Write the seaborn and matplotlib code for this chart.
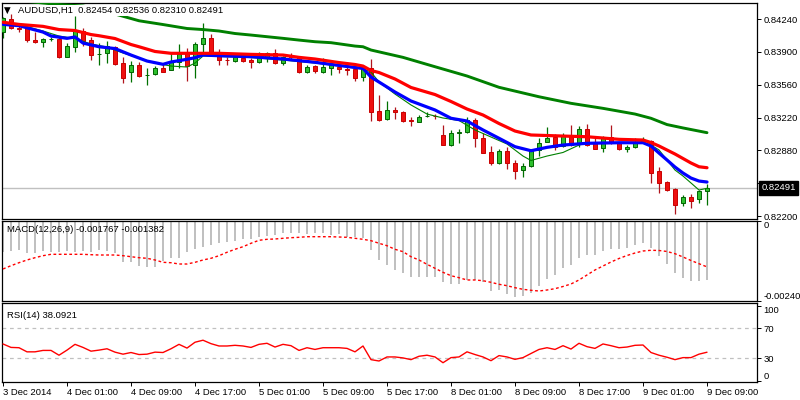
import numpy as np
import pandas as pd
import matplotlib
matplotlib.use("Agg")
import matplotlib.pyplot as plt
import matplotlib.transforms as mtransforms
import seaborn as sns

# ---------------- data ----------------
bar_labels = ["3 Dec 2014", "4 Dec 01:00", "4 Dec 09:00", "4 Dec 17:00", "5 Dec 01:00",
              "5 Dec 09:00", "5 Dec 17:00", "8 Dec 01:00", "8 Dec 09:00", "8 Dec 17:00",
              "9 Dec 01:00", "9 Dec 09:00"]

open_ = [0.84102, 0.84240, 0.84147, 0.84150, 0.84022, 0.83999, 0.84030, 0.84033, 0.83850, 0.83953,
         0.84119, 0.84022, 0.83874, 0.83885, 0.83953, 0.83781, 0.83688, 0.83764, 0.83657, 0.83667,
         0.83729, 0.83709, 0.83792, 0.83895, 0.83764, 0.83978, 0.84040, 0.83895, 0.83817, 0.83808,
         0.83839, 0.83815, 0.83792, 0.83850, 0.83885, 0.83781, 0.83853, 0.83843, 0.83694, 0.83753,
         0.83694, 0.83729, 0.83746, 0.83722, 0.83719, 0.83636, 0.83729, 0.83287, 0.83201, 0.83298,
         0.83280, 0.83190, 0.83176, 0.83232, 0.83237, 0.83039, 0.82935, 0.83059, 0.83073, 0.83194,
         0.83005, 0.82860, 0.82746, 0.82873, 0.82746, 0.82676, 0.82718, 0.82884, 0.82969, 0.83023,
         0.82925, 0.83039, 0.82943, 0.83098, 0.82959, 0.82901, 0.83021, 0.82963, 0.82891, 0.82911,
         0.82969, 0.82980, 0.82666, 0.82555, 0.82480, 0.82332, 0.82400, 0.82373, 0.82454]
high = [0.84264, 0.84289, 0.84195, 0.84171, 0.84102, 0.84046, 0.84057, 0.84057, 0.83995, 0.84271,
        0.84150, 0.84057, 0.83988, 0.84012, 0.83964, 0.83850, 0.83805, 0.83798, 0.83729, 0.83753,
        0.83787, 0.83901, 0.83977, 0.83937, 0.84005, 0.84195, 0.84081, 0.83929, 0.83850, 0.83867,
        0.83867, 0.83839, 0.83901, 0.83901, 0.83929, 0.83860, 0.83885, 0.83850, 0.83764, 0.83764,
        0.83833, 0.83781, 0.83781, 0.83746, 0.83746, 0.83746, 0.83826, 0.83453, 0.83391, 0.83332,
        0.83287, 0.83228, 0.83246, 0.83280, 0.83256, 0.83142, 0.83091, 0.83098, 0.83222, 0.83212,
        0.83056, 0.82925, 0.82891, 0.82918, 0.82780, 0.82746, 0.82891, 0.83005, 0.83125, 0.83049,
        0.83063, 0.83142, 0.83132, 0.83153, 0.83005, 0.83028, 0.83142, 0.82969, 0.82935, 0.83005,
        0.83015, 0.82987, 0.82711, 0.82566, 0.82487, 0.82417, 0.82428, 0.82469, 0.82536]
low = [0.84040, 0.84136, 0.84108, 0.83999, 0.83995, 0.83953, 0.84012, 0.83839, 0.83848, 0.83901,
       0.83964, 0.83815, 0.83764, 0.83781, 0.83764, 0.83574, 0.83591, 0.83642, 0.83557, 0.83660,
       0.83688, 0.83707, 0.83729, 0.83598, 0.83632, 0.83885, 0.83885, 0.83764, 0.83764, 0.83798,
       0.83792, 0.83736, 0.83781, 0.83798, 0.83771, 0.83764, 0.83815, 0.83678, 0.83678, 0.83684,
       0.83678, 0.83660, 0.83678, 0.83660, 0.83598, 0.83598, 0.83184, 0.83187, 0.83194, 0.83201,
       0.83176, 0.83135, 0.83170, 0.83222, 0.83201, 0.82935, 0.82925, 0.82959, 0.83063, 0.82918,
       0.82849, 0.82728, 0.82738, 0.82684, 0.82580, 0.82601, 0.82711, 0.82821, 0.82963, 0.82884,
       0.82918, 0.82925, 0.82911, 0.82925, 0.82891, 0.82866, 0.82946, 0.82884, 0.82866, 0.82901,
       0.82959, 0.82545, 0.82441, 0.82462, 0.82221, 0.82304, 0.82280, 0.82338, 0.82310]
close = [0.84247, 0.84144, 0.84141, 0.84019, 0.83999, 0.84033, 0.84035, 0.83850, 0.83960, 0.84126,
         0.84012, 0.83867, 0.83880, 0.83964, 0.83774, 0.83632, 0.83764, 0.83653, 0.83662, 0.83736,
         0.83694, 0.83798, 0.83881, 0.83753, 0.83978, 0.84040, 0.83901, 0.83815, 0.83812, 0.83850,
         0.83808, 0.83792, 0.83850, 0.83885, 0.83781, 0.83843, 0.83847, 0.83694, 0.83746, 0.83705,
         0.83740, 0.83771, 0.83719, 0.83716, 0.83632, 0.83729, 0.83280, 0.83194, 0.83298, 0.83280,
         0.83187, 0.83184, 0.83228, 0.83237, 0.83232, 0.82935, 0.83056, 0.83065, 0.83194, 0.83005,
         0.82856, 0.82752, 0.82873, 0.82746, 0.82669, 0.82718, 0.82884, 0.82959, 0.83005, 0.82918,
         0.83039, 0.82935, 0.83098, 0.82935, 0.82894, 0.83021, 0.82953, 0.82891, 0.82911, 0.82969,
         0.82987, 0.82648, 0.82545, 0.82469, 0.82314, 0.82394, 0.82358, 0.82459, 0.82491]

# moving averages (bar index, price)
slow_ma_idx = [0, 5, 7, 10, 12, 14, 17, 20, 23, 25, 27, 29, 31, 33, 35, 37, 39, 41, 44, 45, 46,
               50, 54, 58, 62, 67, 71, 75, 79, 81, 83, 85, 88]
slow_ma = [0.84447, 0.84406, 0.84390, 0.84375, 0.84343, 0.84292, 0.84222, 0.84183, 0.84142, 0.84131,
           0.84116, 0.84090, 0.84074, 0.84057, 0.84040, 0.84022, 0.84005, 0.83995, 0.83960, 0.83953,
           0.83919, 0.83843, 0.83746, 0.83650, 0.83533, 0.83435, 0.83367, 0.83315, 0.83256, 0.83212,
           0.83147, 0.83112, 0.83063]
mid_ma_idx = [0, 2, 5, 7, 9, 11, 12, 14, 16, 17, 19, 21, 27, 31, 35, 37, 39, 42, 44, 45,
              46, 47, 49, 51, 54, 56, 58, 60, 62, 64, 66, 70, 73, 77, 80, 81, 82, 84, 86, 87, 88]
mid_ma = [0.84207, 0.84184, 0.84164, 0.84131, 0.84121, 0.84079, 0.84067, 0.84038, 0.83976, 0.83953,
          0.83904, 0.83885, 0.83885, 0.83874, 0.83867, 0.83843, 0.83826, 0.83789, 0.83769, 0.83753,
          0.83707, 0.83686, 0.83619, 0.83531, 0.83458, 0.83386, 0.83308, 0.83246, 0.83158, 0.83080,
          0.83039, 0.83028, 0.83021, 0.82994, 0.82987, 0.82961, 0.82925, 0.82842, 0.82749, 0.82710,
          0.82700]
fast_ma_idx = [0, 2, 5, 6, 8, 9, 10, 12, 14, 16, 18, 20, 21, 23, 24, 25, 27, 31, 35, 39,
               44, 45, 46, 48, 49, 51, 54, 56, 58, 60, 62, 64, 66, 68, 70, 73, 77, 80, 81, 82,
               83, 84, 85, 86, 87, 88]
fast_ma = [0.84185, 0.84171, 0.84105, 0.84064, 0.84040, 0.84054, 0.83991, 0.83953, 0.83934, 0.83867,
           0.83805, 0.83771, 0.83795, 0.83823, 0.83839, 0.83867, 0.83860, 0.83850, 0.83826, 0.83792,
           0.83738, 0.83729, 0.83639, 0.83536, 0.83484, 0.83391, 0.83298, 0.83212, 0.83184, 0.83091,
           0.83005, 0.82918, 0.82876, 0.82911, 0.82935, 0.82953, 0.82959, 0.82959, 0.82925, 0.82852,
           0.82780, 0.82707, 0.82645, 0.82593, 0.82562, 0.82552]
thin_ma_idx = [0, 2, 5, 7, 9, 11, 13, 15, 17, 19, 21, 23, 24, 25, 27, 31, 35, 39, 44, 45,
               46, 47, 48, 49, 51, 53, 55, 57, 59, 61, 63, 65, 66, 68, 70, 72, 73, 77, 80, 81,
               82, 84, 85, 86, 87, 88]
thin_ma = [0.84209, 0.84183, 0.84116, 0.84064, 0.84038, 0.83981, 0.83950, 0.83888, 0.83836, 0.83784,
           0.83753, 0.83743, 0.83784, 0.83857, 0.83852, 0.83841, 0.83815, 0.83784, 0.83733, 0.83722,
           0.83691, 0.83588, 0.83526, 0.83463, 0.83350, 0.83256, 0.83215, 0.83189, 0.83091, 0.83018,
           0.82946, 0.82821, 0.82775, 0.82821, 0.82858, 0.82935, 0.82956, 0.82956, 0.82966, 0.82935,
           0.82884, 0.82676, 0.82614, 0.82542, 0.82469, 0.82487]

macd_hist = [-0.000924, -0.000903, -0.000873, -0.000954, -0.000954, -0.000903, -0.000924, -0.000924, -0.000903, -0.000924,
             -0.000903, -0.000924, -0.000873, -0.000903, -0.000973, -0.001225, -0.001225, -0.001346, -0.001376, -0.001376,
             -0.001204, -0.001105, -0.001105, -0.000924, -0.000852, -0.000774, -0.000723, -0.000671, -0.000623, -0.000602,
             -0.000542, -0.000542, -0.000491, -0.000443, -0.000422, -0.000370, -0.000370, -0.000370, -0.000400, -0.000370,
             -0.000370, -0.000422, -0.000400, -0.000473, -0.000473, -0.000503, -0.000873, -0.001174, -0.001325, -0.001475,
             -0.001575, -0.001677, -0.001695, -0.001677, -0.001677, -0.001846, -0.001897, -0.001897, -0.001776, -0.001776,
             -0.001828, -0.002108, -0.002078, -0.002198, -0.002279, -0.002267, -0.002168, -0.001948, -0.001737, -0.001617,
             -0.001415, -0.001316, -0.001114, -0.001033, -0.001015, -0.000894, -0.000834, -0.000834, -0.000813, -0.000714,
             -0.000662, -0.000813, -0.001063, -0.001286, -0.001566, -0.001716, -0.001798, -0.001798, -0.001767]
macd_signal = [-0.001445, -0.001346, -0.001256, -0.001174, -0.001105, -0.001045, -0.001003, -0.001003, -0.001003, -0.001003,
               -0.001003, -0.001015, -0.001024, -0.001024, -0.001024, -0.001045, -0.001075, -0.001105, -0.001123, -0.001174,
               -0.001244, -0.001256, -0.001295, -0.001295, -0.001244, -0.001174, -0.001123, -0.001045, -0.000942, -0.000852,
               -0.000774, -0.000671, -0.000581, -0.000551, -0.000542, -0.000521, -0.000503, -0.000491, -0.000473, -0.000473,
               -0.000473, -0.000473, -0.000482, -0.000491, -0.000521, -0.000551, -0.000593, -0.000671, -0.000744, -0.000852,
               -0.000924, -0.001075, -0.001174, -0.001304, -0.001424, -0.001545, -0.001647, -0.001707, -0.001776, -0.001776,
               -0.001798, -0.001846, -0.001906, -0.001948, -0.002008, -0.002057, -0.002087, -0.002108, -0.002078, -0.002038,
               -0.001972, -0.001897, -0.001776, -0.001626, -0.001475, -0.001355, -0.001235, -0.001129, -0.001039, -0.000964,
               -0.000903, -0.000882, -0.000888, -0.000918, -0.000985, -0.001084, -0.001189, -0.001286, -0.001382]
rsi = [49.1, 44.5, 44.1, 38.6, 38.6, 40.5, 40.5, 34.1, 40.9, 48.6,
       44.5, 39.5, 40.9, 42.7, 38.2, 35.5, 37.7, 35.0, 35.5, 38.2,
       37.7, 42.7, 48.6, 43.6, 51.4, 54.1, 49.5, 46.4, 46.4, 47.3,
       46.4, 44.5, 48.6, 50.0, 45.0, 48.6, 46.8, 40.5, 44.1, 41.8,
       44.1, 44.1, 44.1, 43.2, 38.6, 46.4, 28.2, 26.4, 31.8, 31.8,
       30.5, 28.2, 32.7, 34.1, 31.8, 24.1, 30.9, 31.8, 38.6, 35.0,
       31.8, 26.8, 33.6, 31.8, 28.6, 30.9, 36.4, 41.8, 44.1, 41.8,
       46.8, 42.3, 50.0, 45.5, 43.2, 49.1, 46.8, 44.1, 45.0, 47.3,
       47.7, 37.7, 34.1, 31.4, 28.2, 30.9, 30.9, 35.5, 38.09]

price_ticks = [0.84240, 0.83900, 0.83560, 0.83220, 0.82880, 0.82540, 0.82200]
last_price = 0.82491
macd_range = [-0.002409, 0.0]
rsi_levels = [30, 70]
rsi_ticks = [0, 30, 70, 100]
title_text = "AUDUSD,H1  0.82454 0.82536 0.82310 0.82491"
macd_text = "MACD(12,26,9) -0.001767 -0.001382"
rsi_text = "RSI(14) 38.0921"

# ---------------- style ----------------
sns.set_style("white")
plt.rcParams['font.family'] = ['Liberation Sans', 'DejaVu Sans']
FS = 6.8

W, H = 800, 400
fig = plt.figure(figsize=(8, 4), dpi=100)
fig.patch.set_facecolor('white')


def px_axes(x0, y0, x1, y1):
    return fig.add_axes([x0 / W, 1 - y1 / H, (x1 - x0) / W, (y1 - y0) / H])


ax = px_axes(2, 3, 757, 219)
axm = px_axes(2, 221, 757, 301)
axr = px_axes(2, 303, 757, 382)

n = len(close)
x = np.arange(n)
o = np.array(open_); c = np.array(close); hi = np.array(high); lo = np.array(low)
bull = c >= o
body_bot = np.minimum(o, c)
body_h = np.maximum(np.abs(c - o), 0.00006)

# price line
ax.axhline(last_price, color='#c0c0c0', lw=1.0, zorder=1)

# candles
ax.vlines(x[bull], lo[bull], hi[bull], color='#007000', lw=0.9, zorder=2)
ax.vlines(x[~bull], lo[~bull], hi[~bull], color='#b0141c', lw=0.9, zorder=2)
ax.bar(x[bull], body_h[bull], bottom=body_bot[bull], width=0.6, color='#2ec02e',
       edgecolor='#006400', linewidth=0.7, zorder=3)
ax.bar(x[~bull], body_h[~bull], bottom=body_bot[~bull], width=0.6, color='#ee1010',
       edgecolor='#c80000', linewidth=0.7, zorder=3)

# moving averages
sns.lineplot(x=thin_ma_idx, y=thin_ma, ax=ax, color='#008000', lw=0.8, zorder=4)
sns.lineplot(x=slow_ma_idx, y=slow_ma, ax=ax, color='#008000', lw=2.1, zorder=5)
sns.lineplot(x=fast_ma_idx, y=fast_ma, ax=ax, color='#0000ff', lw=2.3, zorder=5)
sns.lineplot(x=mid_ma_idx, y=mid_ma, ax=ax, color='#ff0000', lw=2.3, zorder=6)

xlim = (-0.125, 94.25)
ax.set_xlim(*xlim)
ax.set_ylim(0.82169, 0.84406)

# MACD
axm.bar(x, macd_hist, width=0.22, color='#c0c0c0', linewidth=0, zorder=2)
sns.lineplot(x=x, y=macd_signal, ax=axm, color='#ff0000', lw=1.0,
             linestyle=(0, (2.0, 1.8)), zorder=3)
axm.set_xlim(*xlim)
axm.set_ylim(macd_range[0], macd_range[1])

# RSI
for lvl in rsi_levels:
    axr.axhline(lvl, color='#c0c0c0', lw=0.9, ls=(0, (3, 3)), zorder=1)
sns.lineplot(x=x, y=rsi, ax=axr, color='#ff0000', lw=1.0, zorder=3)
axr.set_xlim(*xlim)
axr.set_ylim(-1.6, 103.7)

# axes styling
for a in (ax, axm, axr):
    a.set_xlabel("")
    a.set_ylabel("")
    a.set_facecolor('white')
    a.grid(False)
    for s in a.spines.values():
        s.set_color('black')
        s.set_linewidth(0.9)
    a.yaxis.tick_right()
    a.tick_params(axis='y', which='both', direction='out', length=3, width=0.7,
                  colors='black', labelsize=FS, pad=1.5, left=False, right=True,
                  labelleft=False, labelright=True)

ax.set_xticks([])
axm.set_xticks([])

ax.set_yticks(price_ticks, [f"{v:.5f}" for v in price_ticks])

axm.set_yticks(macd_range, ["-0.002409", "0"])
mt = axm.yaxis.get_major_ticks()
mt[0].label2.set_va('bottom')
mt[1].label2.set_va('top')

axr.set_yticks(rsi_ticks, [str(v) for v in rsi_ticks])
rt = axr.yaxis.get_major_ticks()
rt[0].label2.set_va('bottom')
rt[3].label2.set_va('top')

tick_pos = list(range(0, n, 8))
axr.set_xticks(tick_pos, bar_labels)
axr.tick_params(axis='x', direction='out', length=3, width=0.7, colors='black',
                labelsize=FS, pad=1.5, bottom=True)
for lab in axr.get_xticklabels():
    lab.set_ha('left')

# current price tag
trans = mtransforms.blended_transform_factory(ax.transAxes, ax.transData)
ax.text(1.006, last_price, f"{last_price:.5f}", transform=trans, ha='left', va='center',
        color='white', fontsize=FS, clip_on=False, zorder=10,
        bbox=dict(facecolor='black', edgecolor='black', pad=1.6))

# panel captions
fig.text(4 / W, 1 - 10.5 / H, "\u25BC", fontsize=6.2, family=['DejaVu Sans'],
         ha='left', va='center', color='black')
fig.text(18 / W, 1 - 10.5 / H, title_text, fontsize=FS, ha='left', va='center', color='black',
         bbox=dict(facecolor='white', edgecolor='none', pad=1.0))
fig.text(7 / W, 1 - 230 / H, macd_text, fontsize=FS, ha='left', va='center', color='black')
fig.text(7 / W, 1 - 316 / H, rsi_text, fontsize=FS, ha='left', va='center', color='black')

fig.savefig("out.png", dpi=100, facecolor='white')
